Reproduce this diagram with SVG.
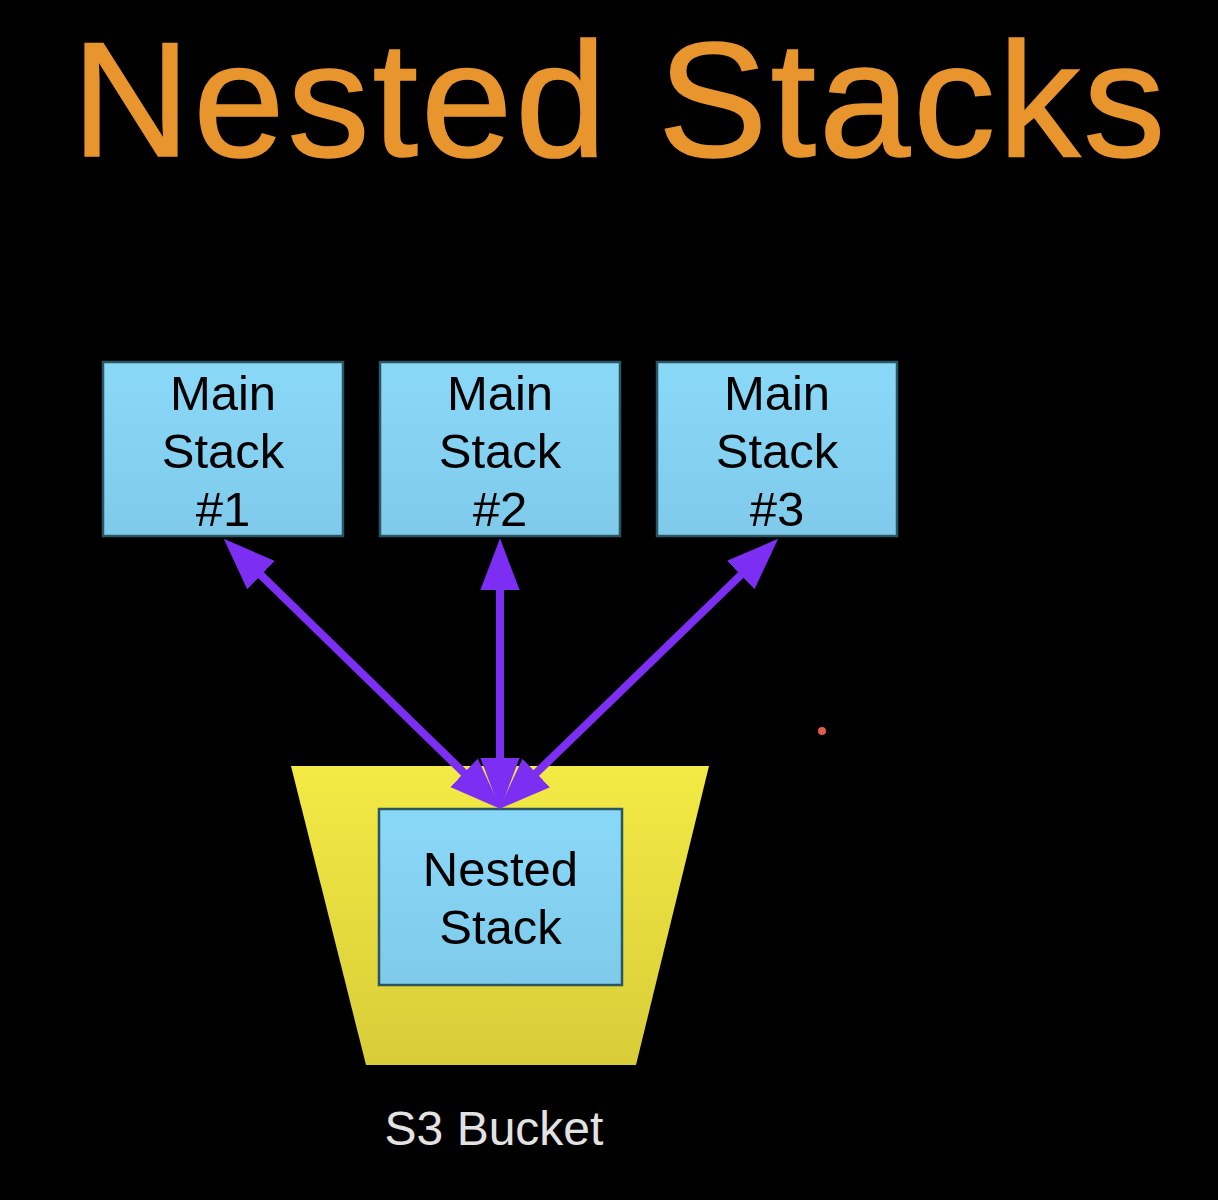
<svg xmlns="http://www.w3.org/2000/svg" width="1218" height="1200" viewBox="0 0 1218 1200">
  <style>
    .box { fill: url(#boxGrad); stroke: #2b5560; stroke-width: 2.5; }
    .lbl { font-family: "Liberation Sans", Arial, sans-serif; font-size: 49px; fill: #000; text-anchor: middle; }
    .conn { stroke: #7c2ff2; stroke-width: 8; fill: none; marker-start: url(#head); marker-end: url(#head); }
  </style>
  <defs>
    <linearGradient id="boxGrad" x1="0" y1="0" x2="0" y2="1">
      <stop offset="0" stop-color="#8ad8f8"/>
      <stop offset="1" stop-color="#7fcaea"/>
    </linearGradient>
    <linearGradient id="bucketGrad" x1="0" y1="0" x2="0" y2="1">
      <stop offset="0" stop-color="#f3ea45"/>
      <stop offset="1" stop-color="#d8cd38"/>
    </linearGradient>
    <marker id="head" markerUnits="userSpaceOnUse" markerWidth="52" markerHeight="40" viewBox="0 0 50 38" refX="9" refY="19" orient="auto-start-reverse">
      <path d="M0,0 L50,19 L0,38 Z" fill="#7c2ff2"/>
    </marker>
  </defs>
  <rect x="0" y="0" width="1218" height="1200" fill="#000"/>

  <text x="620" y="156" font-family="'Liberation Sans', Arial, sans-serif" font-size="164" letter-spacing="3" fill="#e8952e" stroke="#e8952e" stroke-width="1.5" text-anchor="middle">Nested Stacks</text>

  <g id="bucket">
    <polygon points="291,766 709,766 636,1065 366,1065" fill="url(#bucketGrad)"/>
    <text x="494" y="1145" font-family="'Liberation Sans', Arial, sans-serif" font-size="48" fill="#e2e2e2" text-anchor="middle">S3 Bucket</text>
  </g>

  <g id="nested">
    <rect class="box" x="379" y="809" width="243" height="176"/>
    <text class="lbl" x="500.5" y="886">Nested</text>
    <text class="lbl" x="500.5" y="944">Stack</text>
  </g>

  <g id="main1">
    <rect class="box" x="103" y="362" width="240" height="174"/>
    <text class="lbl" x="223" y="410">Main</text>
    <text class="lbl" x="223" y="468">Stack</text>
    <text class="lbl" x="223" y="526">#1</text>
  </g>
  <g id="main2">
    <rect class="box" x="380" y="362" width="240" height="174"/>
    <text class="lbl" x="500" y="410">Main</text>
    <text class="lbl" x="500" y="468">Stack</text>
    <text class="lbl" x="500" y="526">#2</text>
  </g>
  <g id="main3">
    <rect class="box" x="657" y="362" width="240" height="174"/>
    <text class="lbl" x="777" y="410">Main</text>
    <text class="lbl" x="777" y="468">Stack</text>
    <text class="lbl" x="777" y="526">#3</text>
  </g>

  <g id="connectors">
    <line class="conn" x1="254.3" y1="568.6" x2="470.7" y2="779.4"/>
    <line class="conn" x1="500" y1="581" x2="500" y2="767"/>
    <line class="conn" x1="747.5" y1="568.5" x2="529.5" y2="779.5"/>
  </g>

  <circle cx="822" cy="731" r="4" fill="#e05a4a"/>
</svg>
